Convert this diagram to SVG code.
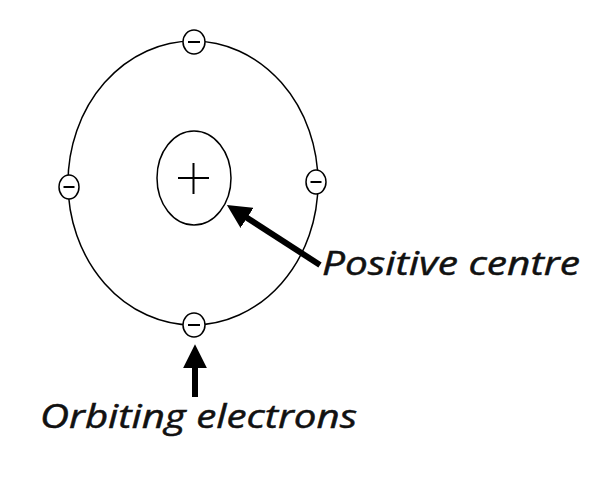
<svg xmlns="http://www.w3.org/2000/svg" width="596" height="480" viewBox="0 0 596 480">
<style>
.orbit{fill:none;stroke:#000;stroke-width:1.5}
.e{fill:#fff;stroke:#000;stroke-width:1.5}
.m{stroke:#000;stroke-width:2}
.lbl{font-family:"Open Sans","DejaVu Sans",sans-serif;font-style:italic;font-size:33px;fill:#111;stroke:#111;stroke-width:0.5}
.arr{stroke:#000;stroke-width:6;fill:none}
</style>
<defs>
<marker id="ah" markerWidth="4" markerHeight="4" refX="1.2" refY="2" orient="auto" markerUnits="strokeWidth">
<path d="M0,0 L4,2 L0,4 Z" fill="#000"/>
</marker>
</defs>
<rect width="596" height="480" fill="#fff"/>
<g id="orbit"><ellipse class="orbit" cx="193" cy="183" rx="125" ry="142"/></g>
<g id="nucleus">
<ellipse class="orbit" cx="194" cy="178" rx="37" ry="47"/>
<path class="m" d="M178,178 H209 M193.5,163 V194" stroke-width="1.8"/>
</g>
<g id="electron-top"><ellipse class="e" cx="194" cy="42" rx="11" ry="12"/><path class="m" d="M188,42 H200"/></g>
<g id="electron-left"><ellipse class="e" cx="69" cy="187" rx="10" ry="12"/><path class="m" d="M63.5,187 H74.5"/></g>
<g id="electron-right"><ellipse class="e" cx="316" cy="182" rx="10" ry="12"/><path class="m" d="M310.5,182 H321.5"/></g>
<g id="electron-bottom"><ellipse class="e" cx="194" cy="325" rx="11" ry="12"/><path class="m" d="M188,325 H200"/></g>
<g id="connectors">
<line class="arr" x1="320" y1="265" x2="241" y2="214" marker-end="url(#ah)"/>
<line class="arr" x1="195" y1="397" x2="195" y2="361" marker-end="url(#ah)"/>
</g>
<g id="label-positive"><text class="lbl" x="322" y="275" textLength="258" lengthAdjust="spacingAndGlyphs">Positive centre</text></g>
<g id="label-orbiting"><text class="lbl" x="40" y="428" textLength="317" lengthAdjust="spacingAndGlyphs">Orbiting electrons</text></g>
</svg>
